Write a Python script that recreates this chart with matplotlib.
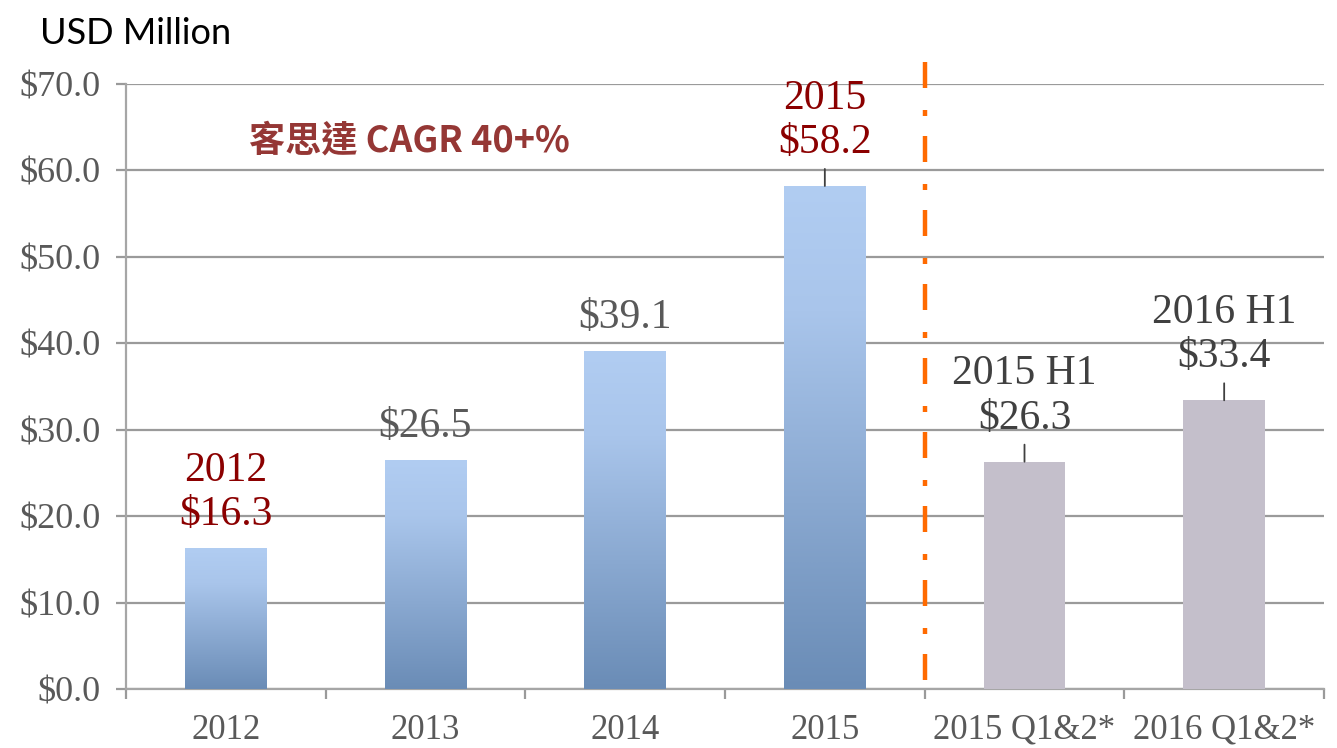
import numpy as np
import matplotlib
matplotlib.use("Agg")
import matplotlib.pyplot as plt
from matplotlib.colors import LinearSegmentedColormap

# ---------------- data ----------------
categories = ["2012", "2013", "2014", "2015", "2015 Q1&2*", "2016 Q1&2*"]
values = [16.3, 26.5, 39.1, 58.2, 26.3, 33.4]
labels = ["2012\n$16.3", "$26.5", "$39.1", "2015\n$58.2", "2015 H1\n$26.3", "2016 H1\n$33.4"]
label_colors = ["#8b0000", "#595959", "#595959", "#8b0000", "#404040", "#404040"]
leader = [False, False, False, True, True, True]
yticks = [0, 10, 20, 30, 40, 50, 60, 70]

serif = "Liberation Serif"
grey = "#595959"

fig = plt.figure(figsize=(13.37, 7.48), dpi=100)
ax = fig.add_axes([126 / 1337, 1 - 689 / 748, (1324 - 126) / 1337, (689 - 84) / 748])

x = np.arange(len(categories))
bar_w = 0.41
blue_cmap = LinearSegmentedColormap.from_list(
    "bl", [(0.0, "#6a8cb6"), (0.75, "#a9c5eb"), (1.0, "#b1cdf2")])

bars = ax.bar(x, values, width=bar_w, color="none", edgecolor="none", zorder=3)
for i, b in enumerate(bars):
    if i < 4:
        grad = np.linspace(1, 0, 256).reshape(-1, 1)
        im = ax.imshow(grad, cmap=blue_cmap, aspect="auto", interpolation="bicubic",
                       extent=(b.get_x(), b.get_x() + b.get_width(), 0, b.get_height()),
                       zorder=3, vmin=0, vmax=1)
        im.set_clip_path(b)
    else:
        b.set_facecolor("#c4bfcb")

ax.set_xlim(-0.5, len(categories) - 0.5)
ax.set_ylim(0, 70)

# grid / spines / ticks
ax.set_yticks(yticks)
ax.set_yticklabels(["${:.1f}".format(v) for v in yticks], fontfamily=serif, fontsize=26, color=grey)
ax.yaxis.grid(True, color="#9a9a9a", lw=1.6, zorder=0)
ax.set_axisbelow(True)
ax.set_xticks(x)
ax.set_xticklabels(categories, fontfamily=serif, fontsize=25, color=grey)
ax.set_xticks(np.arange(-0.5, len(categories), 1.0), minor=True)
ax.tick_params(axis="x", which="major", length=0, pad=18)
ax.tick_params(axis="x", which="minor", length=7, width=1.6, color="#9a9a9a")
ax.tick_params(axis="y", length=7, width=1.6, color="#9a9a9a", pad=11)
for s in ["top", "right"]:
    ax.spines[s].set_visible(False)
for s in ["left", "bottom"]:
    ax.spines[s].set_color("#a6a6a6")
    ax.spines[s].set_linewidth(1.6)

# data labels
for i, (v, lab) in enumerate(zip(values, labels)):
    gap = 24 if leader[i] else 14
    if leader[i]:
        ax.annotate(lab, xy=(x[i], v), xytext=(0, gap), textcoords="offset pixels",
                    ha="center", va="bottom", fontfamily=serif, fontsize=30,
                    color=label_colors[i], linespacing=1.2, zorder=5,
                    arrowprops=dict(arrowstyle="-", color="#404040", lw=1.3,
                                    shrinkA=3, shrinkB=0, relpos=(0.5, 0)))
    else:
        ax.annotate(lab, xy=(x[i], v), xytext=(0, gap), textcoords="offset pixels",
                    ha="center", va="bottom", fontfamily=serif, fontsize=30,
                    color=label_colors[i], linespacing=1.2, zorder=5)

# separator between annual and half-year bars
sep, = ax.plot([3.5, 3.5], [72.5, 0.5], color="#ff6a00", lw=3.2, clip_on=False,
               solid_capstyle="butt", dash_capstyle="butt", zorder=4)
sep.set_dashes([5.85, 4.95, 1.35, 4.5])

ax.text(0.115, 63.4, "客思達 CAGR 40+%", fontfamily=["Noto Sans CJK TC", "DejaVu Sans"],
        fontsize=26, fontweight="bold", color="#953735", va="center", ha="left")

fig.text(40 / 1337, 1 - 33 / 748, "USD Million", fontfamily="Lato", fontsize=26,
         color="black", va="center", ha="left")

fig.savefig("out.png", dpi=100)
